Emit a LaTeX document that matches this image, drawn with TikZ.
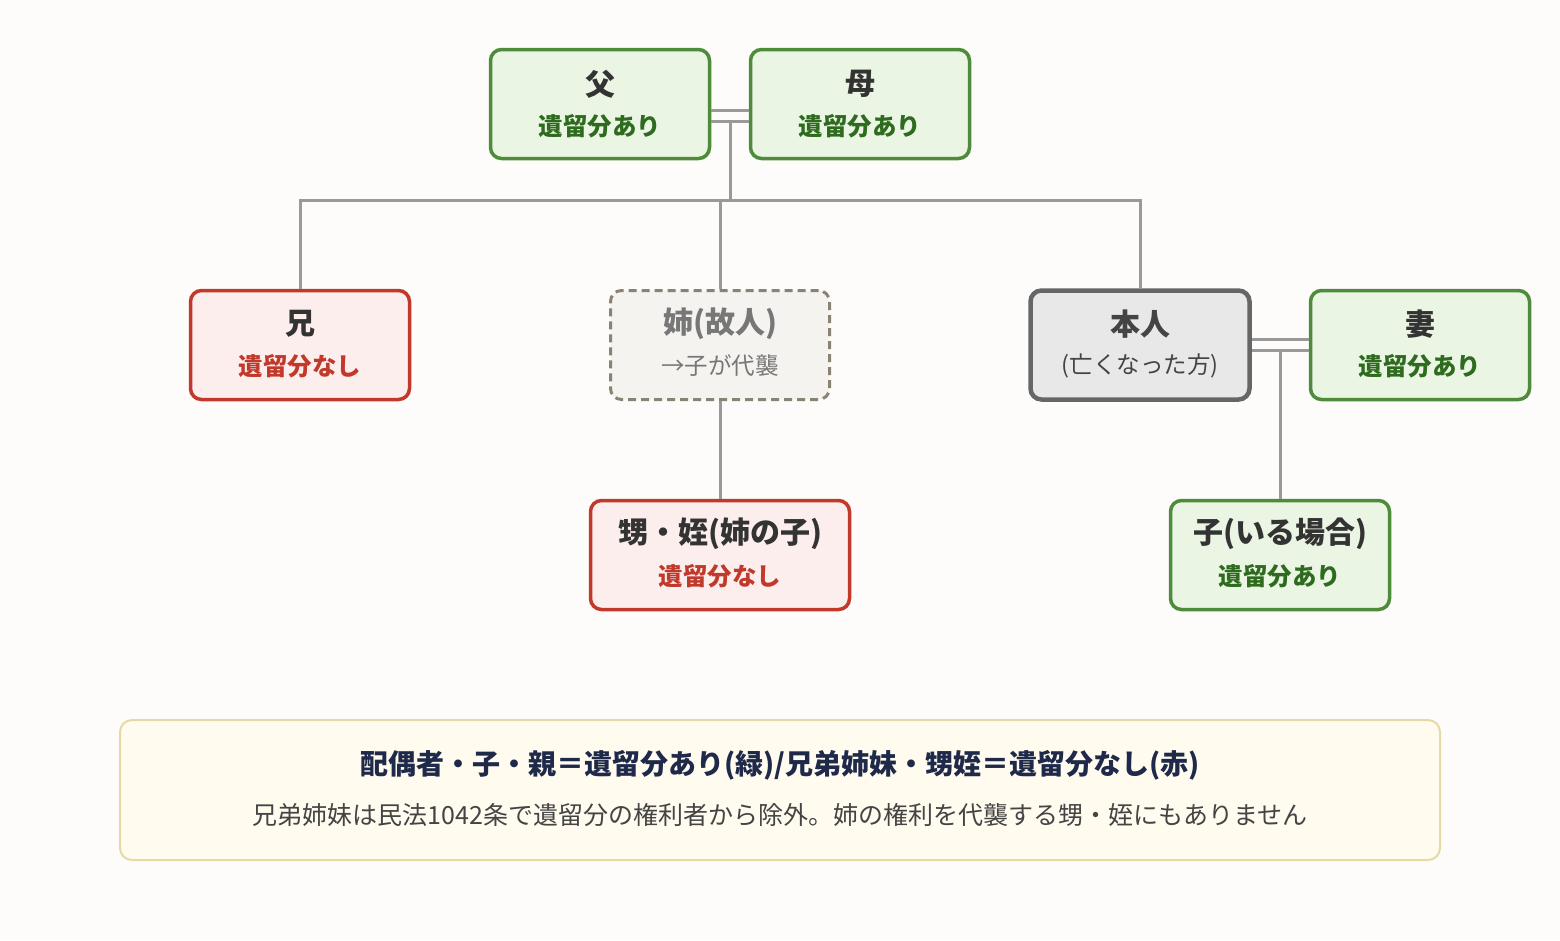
\documentclass[tikz,border=0pt]{standalone}
\usepackage{fontspec}
\setmainfont{Noto Sans CJK JP}
\begin{document}
\definecolor{bg}{HTML}{FDFCFA}
\definecolor{gB}{HTML}{4E8C3C}\definecolor{gF}{HTML}{EAF5E3}\definecolor{gT}{HTML}{2E6B1E}
\definecolor{rB}{HTML}{C0392B}\definecolor{rF}{HTML}{FDEEEE}
\definecolor{dB}{HTML}{8A8272}\definecolor{dF}{HTML}{F5F3EF}\definecolor{dT}{HTML}{777777}
\definecolor{hB}{HTML}{666666}\definecolor{hF}{HTML}{E8E8E8}\definecolor{hT}{HTML}{444444}
\definecolor{ln}{HTML}{999999}\definecolor{nF}{HTML}{FFFBEE}\definecolor{nB}{HTML}{E6D9A8}
\definecolor{navy}{HTML}{1F2A4A}\definecolor{tx}{HTML}{333333}
\begin{tikzpicture}[x=1pt,y=-1pt,
 box/.style={rounded corners=11pt,minimum width=219pt,minimum height=109pt,line width=3.5pt,align=center,inner sep=0pt},
 green/.style={box,draw=gB,fill=gF},
 red/.style={box,draw=rB,fill=rF},
 ln/.style={draw=ln,line width=3pt},
 t/.style={font=\bfseries\fontsize{30}{34}\selectfont,text=tx},
 s/.style={font=\bfseries\fontsize{24.5}{28}\selectfont},
]
\fill[bg] (0,0) rectangle (1560,940);
\node[green] (fa) at (600,104) {};
\node[green] (mo) at (860,104) {};
\node[red] (ani) at (300,345) {};
\node[box,draw=dB,fill=dF,line width=3pt,dash pattern=on 8pt off 5pt] (ane) at (720,345) {};
\node[box,draw=hB,fill=hF,line width=4.5pt] (hon) at (1140,345) {};
\node[green] (tsu) at (1420,345) {};
\node[red,minimum width=259pt] (oi) at (720,555) {};
\node[green] (ko) at (1280,555) {};
% labels
\node[t] at (600,84) {父};
\node[s,text=gT] at (600,126) {遺留分あり};
\node[t] at (860,84) {母};
\node[s,text=gT] at (860,126) {遺留分あり};
\node[t] at (300,324) {兄};
\node[s,text=rB] at (300,366) {遺留分なし};
\node[t,text=dT] at (720,324) {姉(故人)};
\node[font=\fontsize{23.5}{28}\selectfont,text=dT] at (720,366) {→子が代襲};
\node[t,text=hT] at (1140,324) {本人};
\node[font=\fontsize{23.5}{28}\selectfont,text=hT] at (1140,366) {(亡くなった方)};
\node[t] at (1420,324) {妻};
\node[s,text=gT] at (1420,366) {遺留分あり};
\node[t] at (720,534) {甥・姪(姉の子)};
\node[s,text=rB] at (720,576) {遺留分なし};
\node[t] at (1280,534) {子(いる場合)};
\node[s,text=gT] at (1280,576) {遺留分あり};
% connectors
\draw[ln] (fa.east|-0,110) -- (mo.west|-0,110);
\draw[ln] (fa.east|-0,121) -- (mo.west|-0,121);
\coordinate (j) at (730,200);
\draw[ln] (730,121) -- (j);
\draw[ln] (ani.north) -- (300,200) -- (1140,200) -- (hon.north);
\draw[ln] (ane.north) -- (720,200);
\draw[ln] (ane.south) -- (oi.north);
\draw[ln] (hon.east|-0,339) -- (tsu.west|-0,339);
\draw[ln] (hon.east|-0,350) -- (tsu.west|-0,350);
\draw[ln] (1280,350) -- (ko.north);
% note
\node[draw=nB,fill=nF,line width=2pt,rounded corners=12pt,minimum width=1320pt,minimum height=140pt] (note) at (780,790) {};
\node[font=\bfseries\fontsize{28}{30}\selectfont,text=navy] at (780,765) {配偶者・子・親＝遺留分あり(緑)/兄弟姉妹・甥姪＝遺留分なし(赤)};
\node[font=\fontsize{25}{28}\selectfont,text=hT] at (780,815) {兄弟姉妹は民法1042条で遺留分の権利者から除外。姉の権利を代襲する甥・姪にもありません};
\end{tikzpicture}
\end{document}
